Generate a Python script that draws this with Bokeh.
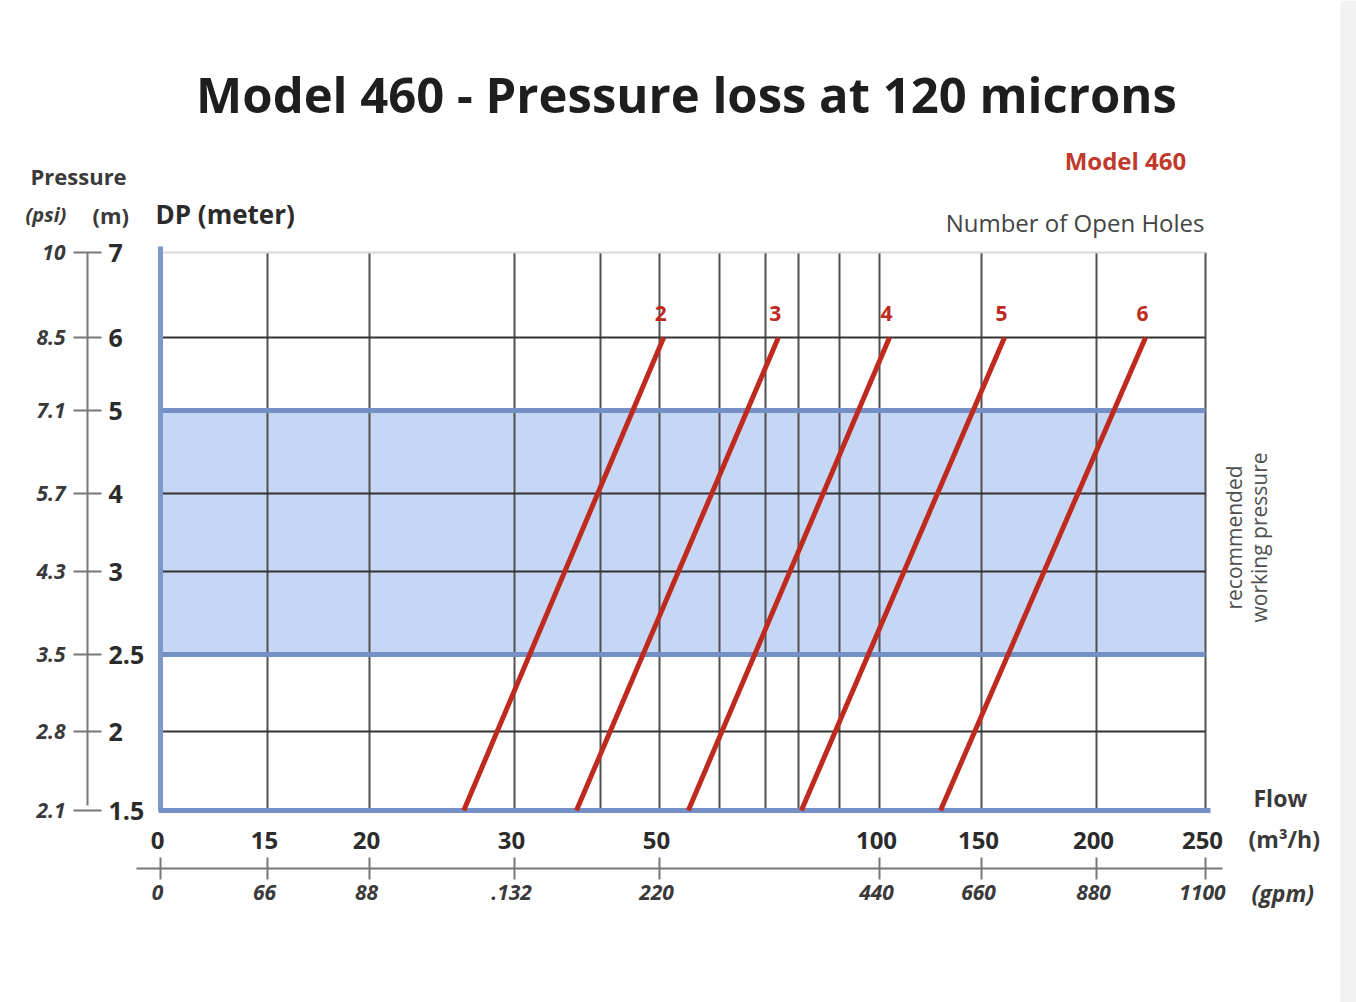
import numpy as np
from bokeh.plotting import figure
from bokeh.models import Range1d
from bokeh.core.properties import value
from bokeh.embed import file_html
from bokeh.resources import INLINE

# ---------------- data ----------------
# flow grid (m3/h) and the labelled subset with its gpm equivalents
FLOW_GRID = [0, 15, 20, 30, 40, 50, 60, 70, 80, 90, 100, 150, 200, 250]
FLOW_LABELED = [0, 15, 20, 30, 50, 100, 150, 200, 250]
FLOW_LABELS = ["0", "15", "20", "30", "50", "100", "150", "200", "250"]
GPM_LABELS = ["0", "66", "88", ".132", "220", "440", "660", "880", "1100"]

# pressure grid (m) and psi equivalents
DP_GRID = [1.5, 2, 2.5, 3, 4, 5, 6, 7]
DP_LABELS = ["1.5", "2", "2.5", "3", "4", "5", "6", "7"]
PSI_LABELS = ["2.1", "2.8", "3.5", "4.3", "5.7", "7.1", "8.5", "10"]

# pressure-loss lines per number of open holes: flow at DP 1.5 m and at DP 6 m
OPEN_HOLES = [2, 3, 4, 5, 6]
FLOW_AT_DP_LOW = [26.5, 37.2, 54.8, 80.7, 129.9]
FLOW_AT_DP_HIGH = [50.7, 73.9, 104.9, 160.0, 222.5]
DP_LOW = 1.5
DP_HIGH = 6.0

# recommended working pressure band (m)
BAND_LOW = 2.5
BAND_HIGH = 5.0

# ---------------- chart scales ----------------
# the printed scales are not linear: each grid value sits at its own stop
FLOW_STOPS = [0, 107, 209, 354, 440, 499, 559, 605, 638, 679, 719, 821, 936, 1045]
DP_STOPS = [0, 79, 156, 239, 317, 400, 473, 558]


def fx(v):
    return np.interp(v, FLOW_GRID, FLOW_STOPS)


def fy(v):
    return np.interp(v, DP_GRID, DP_STOPS)


p = figure(width=1356, height=1002, x_range=Range1d(-160, 1196), y_range=Range1d(-192, 810),
           x_axis_type=None, y_axis_type=None, title=None, min_border=0,
           output_backend="svg", toolbar_location=None, outline_line_color=None,
           background_fill_color="white", border_fill_color="white")

FONT = value("Open Sans")
DARK = "#2b2b2b"
SOFT = "#3a3a3a"
RED = "#bf2a1f"
BLUE_LINE = "#7590c6"


def label(x, y, text, size, style="bold", color=SOFT, align="left", **kw):
    p.text(x=x, y=y, text=text, text_font=FONT, text_font_style=style,
           text_font_size=f"{size}px", text_color=color, text_align=align,
           text_baseline="middle", **kw)


# page edge shading
p.quad(left=[1180], right=[1196], bottom=[-192], top=[810], fill_color="#f2f2f2", line_color=None)

x_min, x_max = fx(FLOW_GRID[0]), fx(FLOW_GRID[-1])
y_min, y_max = fy(DP_GRID[0]), fy(DP_GRID[-1])

# recommended band
p.quad(left=[x_min], right=[x_max], bottom=[fy(BAND_LOW)], top=[fy(BAND_HIGH)],
       fill_color="#c6d7f5", line_color=None)

# vertical grid
gx = fx(FLOW_GRID[1:])
p.segment(x0=gx, y0=[y_min] * len(gx), x1=gx, y1=[y_max] * len(gx),
          line_color="#505050", line_width=2)

# horizontal grid (band edges drawn separately)
inner = [d for d in DP_GRID[1:-1] if d not in (BAND_LOW, BAND_HIGH)]
gy = fy(inner)
p.segment(x0=[x_min] * len(gy), y0=gy, x1=[x_max] * len(gy), y1=gy,
          line_color="#333333", line_width=2)
p.segment(x0=[x_min], y0=[y_max], x1=[x_max], y1=[y_max], line_color="#d9d9d9", line_width=2)

# band edges
by = fy([BAND_LOW, BAND_HIGH])
p.segment(x0=[x_min] * 2, y0=by, x1=[x_max] * 2, y1=by, line_color=BLUE_LINE, line_width=5)

# frame: left and bottom in blue
p.segment(x0=[x_min], y0=[y_min], x1=[x_min], y1=[y_max + 6], line_color="#7e97cb", line_width=5)
p.segment(x0=[x_min - 2], y0=[y_min], x1=[x_max + 5], y1=[y_min], line_color=BLUE_LINE, line_width=5)

# pressure-loss lines
xs = [[fx(a), fx(b)] for a, b in zip(FLOW_AT_DP_LOW, FLOW_AT_DP_HIGH)]
ys = [[fy(DP_LOW), fy(DP_HIGH)] for _ in OPEN_HOLES]
p.multi_line(xs=xs, ys=ys, line_color=RED, line_width=5)
label(fx(FLOW_AT_DP_HIGH) - 3, [fy(DP_HIGH) + 24] * len(OPEN_HOLES),
      [str(h) for h in OPEN_HOLES], 21, color=RED, align="center")

# ---- left double scale: psi | m ----
sx = -73
p.segment(x0=[sx], y0=[y_min + 5], x1=[sx], y1=[y_max], line_color="#777777", line_width=2)
ty = fy(DP_GRID)
p.segment(x0=[sx - 14] * len(ty), y0=ty, x1=[sx + 14] * len(ty), y1=ty,
          line_color="#777777", line_width=2)
label([sx - 22] * len(ty), ty, PSI_LABELS, 21, style="bold italic", align="right")
label([sx + 21] * len(ty), ty, DP_LABELS, 25, color=DARK)

# ---- bottom double scale: m3/h over gpm ----
bx = fx(FLOW_LABELED)
p.segment(x0=[-24], y0=[-58], x1=[1062], y1=[-58], line_color="#777777", line_width=2)
p.segment(x0=bx, y0=[-47] * len(bx), x1=bx, y1=[-69] * len(bx), line_color="#777777", line_width=2)
label(bx - 3, [-30] * len(bx), FLOW_LABELS, 24, color=DARK, align="center")
label(bx - 3, [-82] * len(bx), GPM_LABELS, 21, style="bold italic", align="center")

# ---- titles and captions ----
label([526], [717], ["Model 460 - Pressure loss at 120 microns"], 49, color="#1e1e1e", align="center")
label([-130], [635], ["Pressure"], 22)
label([-135], [596], ["(psi)"], 20, style="bold italic")
label([-68], [596], ["(m)"], 22)
label([-5], [597], ["DP (meter)"], 26, color=DARK)
label([1032], [650], ["Model  460"], 24, color="#c0392b", align="right")
label([1044], [588], ["Number of Open Holes"], 24, style="normal", color="#444444", align="right")
label([1093], [13], ["Flow"], 23)
label([1088], [-28], ["(m³/h)"], 23)
label([1091], [-82], ["(gpm)"], 23, style="bold italic")

# rotated caption beside the band
band_mid = (fy(BAND_LOW) + fy(BAND_HIGH)) / 2 - 5
label([1073, 1098], [band_mid, band_mid], ["recommended", "working pressure"], 21,
      style="normal", color="#505050", align="center", angle=np.pi / 2)

open("out.html", "w").write(file_html(p, INLINE))
